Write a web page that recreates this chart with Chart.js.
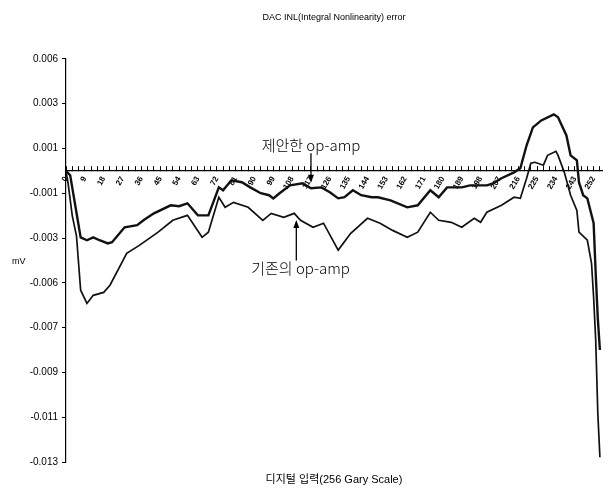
<!DOCTYPE html>
<html>
<head>
<meta charset="utf-8">
<script src="https://cdn.jsdelivr.net/npm/chart.js@4/dist/chart.umd.min.js"></script>
<style>
  body { margin: 0; background: #fff; }
  #wrap { width: 611px; height: 495px; }
</style>
</head>
<body>
<div id="wrap"><canvas id="inl"></canvas></div>
<script>

const proposedCode = [0, 2, 7, 10, 13, 16, 20, 22, 28, 34, 37, 42, 50, 54, 58, 63, 68, 73, 75, 79,
    84, 88, 93, 97, 99, 102, 107, 113, 117, 122, 126, 130, 133, 137, 141, 146, 149, 155, 163, 168,
    174, 178, 182, 189, 193, 201, 204, 208, 214, 217, 220, 223, 227, 233, 235, 239, 241, 244, 245, 247,
    249, 252, 253, 254, 255];
const proposedErr = [0, -0.0002, -0.00297, -0.0031, -0.00297, -0.0031, -0.00324, -0.00319, -0.00252, -0.00243,
    -0.00221, -0.0019, -0.00154, -0.00158, -0.00145, -0.00199, -0.00199, -0.00074, -0.00087, -0.00042,
    -0.00051, -0.00074, -0.001, -0.00109, -0.00123, -0.001, -0.00065, -0.00056, -0.00078, -0.00074,
    -0.00096, -0.00123, -0.00118, -0.00087, -0.00109, -0.00118, -0.00118, -0.00132, -0.00163, -0.00154,
    -0.00087, -0.00118, -0.00074, -0.00074, -0.00065, -0.00065, -0.00056, -0.00033, -0.00007, 0.00011,
    0.00114, 0.00194, 0.00225, 0.00252, 0.00239, 0.00158, 0.00069, 0.00047, -0.00051, -0.00109,
    -0.00123, -0.00234, -0.0046, -0.0066, -0.008];

const conventionalCode = [0, 1, 3, 5, 7, 10, 13, 18, 21, 29, 35, 44, 51, 58, 65, 68, 73, 76, 80, 87,
    94, 98, 104, 109, 112, 118, 123, 130, 136, 144, 150, 156, 163, 168, 174, 178, 184, 189, 195, 198,
    201, 208, 214, 217, 220, 222, 224, 228, 230, 234, 235, 238, 241, 244, 245, 249, 251, 252, 253, 254,
    255];
const conventionalErr = [0, -0.00056, -0.00201, -0.0029, -0.00533, -0.00592, -0.00556, -0.00543, -0.00511, -0.00368,
    -0.00333, -0.00274, -0.00221, -0.00199, -0.00297, -0.00274, -0.00118, -0.00163, -0.00141, -0.00163,
    -0.00221, -0.0019, -0.00208, -0.0019, -0.00221, -0.00252, -0.00234, -0.00354, -0.00279, -0.00212,
    -0.00234, -0.00266, -0.00297, -0.00274, -0.00185, -0.00221, -0.0023, -0.00252, -0.00212, -0.0023,
    -0.00185, -0.00154, -0.00118, -0.00123, -0.00033, 0.00034, 0.00038, 0.00025, 0.00069, 0.00087,
    0.00069, -0.00007, -0.00109, -0.00177, -0.00274, -0.0031, -0.00413, -0.00565, -0.00757, -0.01083,
    -0.01279];

// tick labels as printed, bottom to top
const yTickLabels = ['-0.013', '-0.011', '-0.009', '-0.007', '-0.006', '-0.003', '-0.001', '0.001', '0.003', '0.006'];
const xTickLabels = [0, 9, 18, 27, 36, 45, 54, 63, 72, 81, 90, 99, 108, 117, 126, 135, 144,
    153, 162, 171, 180, 189, 198, 207, 216, 225, 234, 243, 252];

// callouts: text, where the text sits, arrow (code, from, to)
const calloutText = ['제안한 op-amp', '기존의 op-amp'];
const calloutAt = [[117, 0.00114], [112, -0.00435]];
const calloutArrow = [[117, 0.00078, -0.00053], [110, -0.0040, -0.0022]];

function points(xs, ys) {
    return xs.map((c, i) => ({x: c, y: ys[i]}));
}

const callouts = {
    id: 'callouts',
    afterDatasetsDraw(chart) {
        const {ctx, scales: {x, y}} = chart;
        ctx.save();
        ctx.fillStyle = '#000';
        ctx.strokeStyle = '#000';
        ctx.font = '300 15px "Noto Sans CJK KR", sans-serif';
        ctx.textAlign = 'center';
        ctx.textBaseline = 'middle';
        calloutText.forEach((t, k) => {
            ctx.fillText(t, x.getPixelForValue(calloutAt[k][0]), y.getPixelForValue(calloutAt[k][1]));
            const ax = x.getPixelForValue(calloutArrow[k][0]);
            const y0 = y.getPixelForValue(calloutArrow[k][1]);
            const y1 = y.getPixelForValue(calloutArrow[k][2]);
            const dir = y1 > y0 ? 1 : -1;
            ctx.lineWidth = 1.3;
            ctx.beginPath();
            ctx.moveTo(ax, y0);
            ctx.lineTo(ax, y1 - dir * 6);
            ctx.stroke();
            ctx.beginPath();
            ctx.moveTo(ax, y1);
            ctx.lineTo(ax - 3, y1 - dir * 8);
            ctx.lineTo(ax + 3, y1 - dir * 8);
            ctx.closePath();
            ctx.fill();
        });
        ctx.font = '9px "Liberation Sans", sans-serif';
        ctx.textAlign = 'left';
        ctx.fillText('mV', 12, 262);
        ctx.restore();
    }
};

new Chart(document.getElementById('inl'), {
    type: 'line',
    data: {
        datasets: [{
            label: '제안한 op-amp',
            data: points(proposedCode, proposedErr),
            xAxisID: 'x',
            yAxisID: 'y',
            borderColor: '#111',
            borderWidth: 2.4,
            pointRadius: 0,
            tension: 0,
            fill: false
        }, {
            label: '기존의 op-amp',
            data: points(conventionalCode, conventionalErr),
            xAxisID: 'x',
            yAxisID: 'y',
            borderColor: '#111',
            borderWidth: 1.7,
            pointRadius: 0,
            tension: 0,
            fill: false
        }]
    },
    options: {
        responsive: true,
        maintainAspectRatio: false,
        animation: false,
        layout: {padding: {top: 0, right: 9, bottom: 0, left: 0}},
        plugins: {
            legend: {display: false},
            tooltip: {enabled: false},
            title: {
                display: true,
                fullSize: false,
                text: 'DAC INL(Integral Nonlinearity) error',
                color: '#000',
                font: {family: '"Liberation Sans", sans-serif', size: 9, weight: 'normal'},
                padding: {top: 12, bottom: 36}
            }
        },
        scales: {
            x: {
                type: 'linear',
                position: {y: 0},
                min: 0,
                max: 256,
                border: {display: true, color: '#000', width: 1.2},
                grid: {display: true, drawOnChartArea: false, drawTicks: true, tickLength: -5, color: '#000', lineWidth: 1},
                ticks: {
                    stepSize: 3,
                    includeBounds: false,
                    autoSkip: false,
                    minRotation: 60,
                    maxRotation: 60,
                    padding: 9,
                    color: '#000',
                    font: {family: '"Liberation Sans", sans-serif', size: 8, weight: 'bold'},
                    callback: v => xTickLabels.includes(v) ? String(v) : ''
                },
                afterFit: s => { s.paddingLeft = 0; s.paddingRight = 0; }
            },
            xTitle: {
                type: 'linear',
                axis: 'x',
                position: 'bottom',
                grid: {display: false},
                border: {display: false},
                ticks: {display: false},
                title: {
                    display: true,
                    text: '디지털 입력(256 Gary Scale)',
                    color: '#000',
                    font: {family: '"Liberation Sans", "Noto Sans CJK KR", sans-serif', size: 11},
                    padding: {top: 0, bottom: 8}
                },
                afterFit: s => { s.height = 33; s.paddingLeft = 0; s.paddingRight = 0; }
            },
            y: {
                type: 'linear',
                min: -0.013,
                max: 0.005,
                border: {display: true, color: '#000', width: 1.2},
                grid: {display: true, drawOnChartArea: false, drawTicks: true, tickLength: 4, color: '#000'},
                ticks: {
                    stepSize: 0.002,
                    padding: 4,
                    color: '#000',
                    font: {family: '"Liberation Sans", sans-serif', size: 10},
                    callback: (v, i) => yTickLabels[i]
                },
                afterFit: s => { s.width = 66; }
            }
        }
    },
    plugins: [callouts]
});
</script>
</body>
</html>
